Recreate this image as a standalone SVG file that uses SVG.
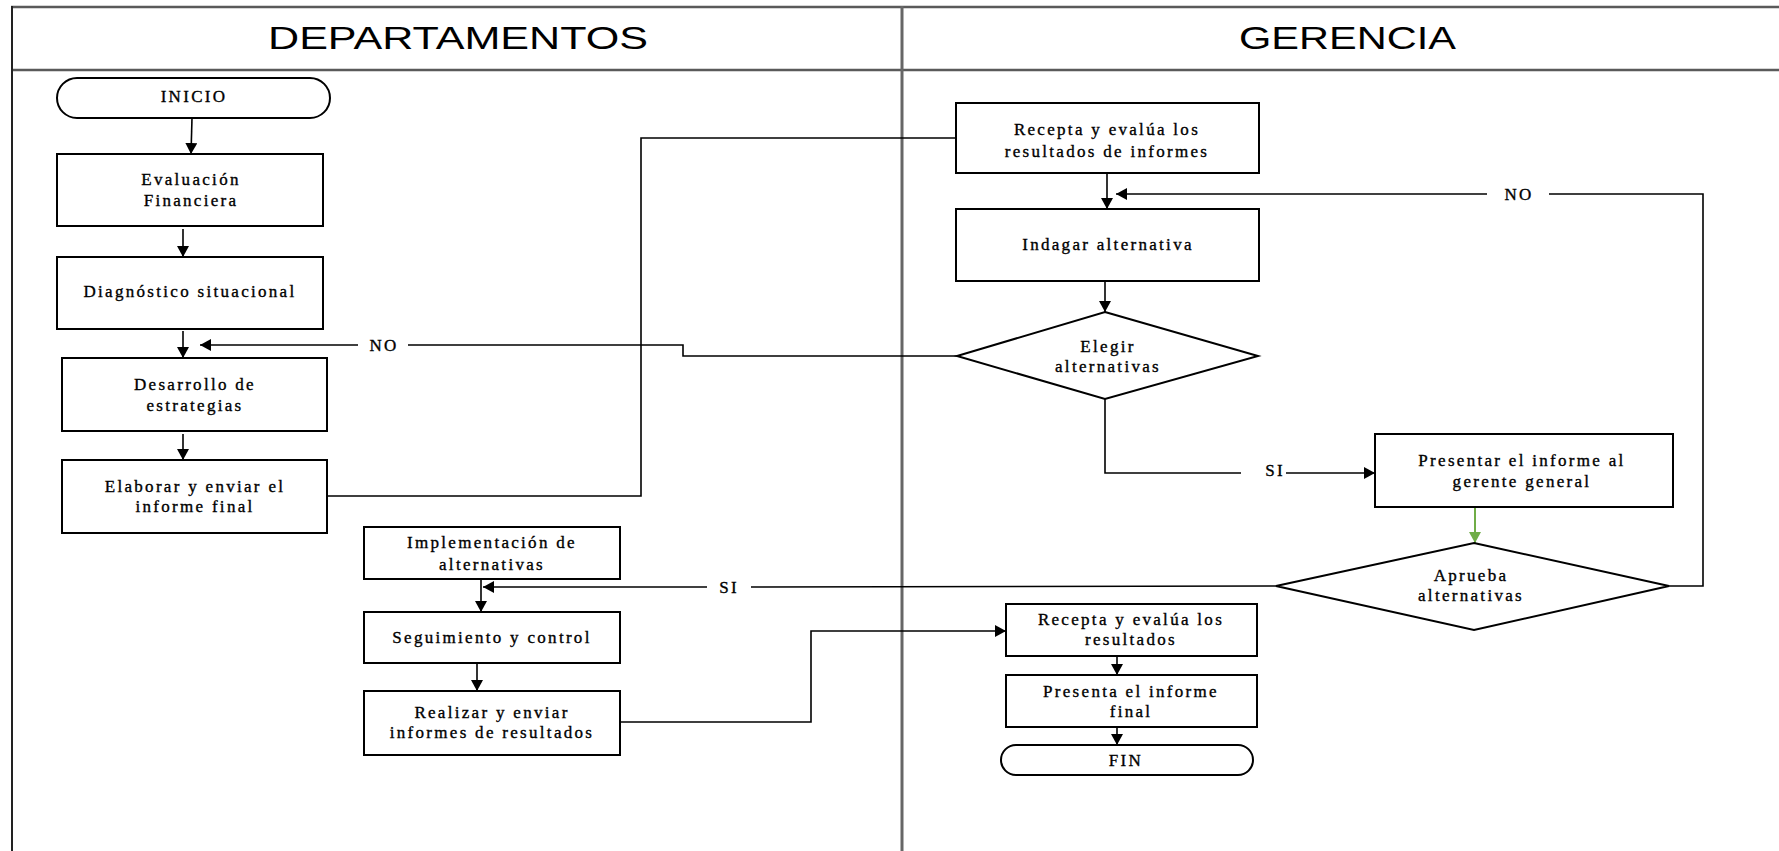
<svg xmlns="http://www.w3.org/2000/svg" width="1779" height="851" viewBox="0 0 1779 851">
  <defs>
    <style>
      .lane { stroke: #5a5a5a; stroke-width: 2.5; fill: none; }
      .lane-div { stroke: #666; stroke-width: 3; fill: none; }
      .box { fill: #fff; stroke: #000; stroke-width: 2; }
      .conn { fill: none; stroke: #000; stroke-width: 1.6; }
      .green { fill: none; stroke: #70ad47; stroke-width: 2; }
      .head { font-family: "Liberation Sans", Arial, sans-serif; font-size: 32px; fill: #000; }
      .t { font-family: "Liberation Serif", "Times New Roman", serif; font-size: 17px; letter-spacing: 2.3px; fill: #000; stroke: #000; stroke-width: 0.35; text-anchor: middle; }
    </style>
    <marker id="arr" markerUnits="userSpaceOnUse" markerWidth="11" markerHeight="12" refX="11" refY="6" orient="auto">
      <path d="M0,0 L11,6 L0,12 z" fill="#000"/>
    </marker>
    <marker id="arrG" markerUnits="userSpaceOnUse" markerWidth="11" markerHeight="12" refX="11" refY="6" orient="auto">
      <path d="M0,0 L11,6 L0,12 z" fill="#70ad47"/>
    </marker>
  </defs>

  <rect width="1779" height="851" fill="#fff"/>

  <!-- swimlane frame -->
  <g id="lanes">
    <line class="lane" x1="11" y1="7" x2="1779" y2="7"/>
    <line class="lane" x1="11" y1="70" x2="1779" y2="70"/>
    <line x1="12" y1="6" x2="12" y2="851" stroke="#222" stroke-width="2"/>
    <line class="lane-div" x1="902" y1="6" x2="902" y2="851"/>
    <text class="head" x="268" y="49" textLength="380" lengthAdjust="spacingAndGlyphs">DEPARTAMENTOS</text>
    <text class="head" x="1239" y="49" textLength="217" lengthAdjust="spacingAndGlyphs">GERENCIA</text>
  </g>

  <!-- connectors -->
  <g id="connectors">
    <line class="conn" x1="192" y1="118" x2="191" y2="154" marker-end="url(#arr)"/>
    <line class="conn" x1="183" y1="229" x2="183" y2="257" marker-end="url(#arr)"/>
    <line class="conn" x1="183" y1="331" x2="183" y2="358" marker-end="url(#arr)"/>
    <line class="conn" x1="183" y1="434" x2="183" y2="460" marker-end="url(#arr)"/>

    <!-- NO from Elegir alternativas back to Desarrollo -->
    <polyline class="conn" points="957,356 683,356 683,345 408,345"/>
    <line class="conn" x1="358" y1="345" x2="200" y2="345" marker-end="url(#arr)"/>

    <!-- Elaborar -> Recepta -->
    <polyline class="conn" points="327,496 641,496 641,138 956,138"/>

    <line class="conn" x1="1107" y1="173" x2="1107" y2="209" marker-end="url(#arr)"/>
    <line class="conn" x1="1105" y1="281" x2="1105" y2="312" marker-end="url(#arr)"/>

    <!-- NO loop from Aprueba alternativas -->
    <polyline class="conn" points="1669,586 1703,586 1703,194 1549,194"/>
    <line class="conn" x1="1487" y1="194" x2="1116" y2="194" marker-end="url(#arr)"/>

    <!-- SI from Elegir alternativas -->
    <polyline class="conn" points="1105,399 1105,473 1241,473"/>
    <line class="conn" x1="1286" y1="473" x2="1375" y2="473" marker-end="url(#arr)"/>

    <line class="green" x1="1475" y1="507" x2="1475" y2="543" marker-end="url(#arrG)"/>

    <!-- SI from Aprueba alternativas -->
    <line class="conn" x1="1276" y1="586" x2="751" y2="587"/>
    <line class="conn" x1="707" y1="587" x2="483" y2="587" marker-end="url(#arr)"/>

    <line class="conn" x1="481" y1="579" x2="481" y2="612" marker-end="url(#arr)"/>
    <line class="conn" x1="477" y1="663" x2="477" y2="691" marker-end="url(#arr)"/>

    <!-- Realizar -> Recepta resultados -->
    <polyline class="conn" points="620,722 811,722 811,631 1006,631" marker-end="url(#arr)"/>

    <line class="conn" x1="1117" y1="656" x2="1117" y2="675" marker-end="url(#arr)"/>
    <line class="conn" x1="1117" y1="727" x2="1117" y2="745" marker-end="url(#arr)"/>
  </g>

  <!-- connector labels -->
  <g id="labels">
    <text class="t" x="384" y="351">NO</text>
    <text class="t" x="1519" y="200">NO</text>
    <text class="t" x="1275" y="476">SI</text>
    <text class="t" x="729" y="593">SI</text>
  </g>

  <!-- DEPARTAMENTOS lane -->
  <g id="inicio">
    <rect class="box" x="57" y="78" width="273" height="40" rx="20" ry="20"/>
    <text class="t" x="194" y="102">INICIO</text>
  </g>
  <g id="evaluacion">
    <rect class="box" x="57" y="154" width="266" height="72"/>
    <text class="t" x="191" y="185">Evaluación</text>
    <text class="t" x="191" y="206">Financiera</text>
  </g>
  <g id="diagnostico">
    <rect class="box" x="57" y="257" width="266" height="72"/>
    <text class="t" x="190" y="297">Diagnóstico situacional</text>
  </g>
  <g id="desarrollo">
    <rect class="box" x="62" y="358" width="265" height="73"/>
    <text class="t" x="195" y="390">Desarrollo de</text>
    <text class="t" x="195" y="411">estrategias</text>
  </g>
  <g id="elaborar">
    <rect class="box" x="62" y="460" width="265" height="73"/>
    <text class="t" x="195" y="492">Elaborar y enviar el</text>
    <text class="t" x="195" y="512">informe final</text>
  </g>
  <g id="implementacion">
    <rect class="box" x="364" y="527" width="256" height="52"/>
    <text class="t" x="492" y="548">Implementación de</text>
    <text class="t" x="492" y="570">alternativas</text>
  </g>
  <g id="seguimiento">
    <rect class="box" x="364" y="612" width="256" height="51"/>
    <text class="t" x="492" y="643">Seguimiento y control</text>
  </g>
  <g id="realizar">
    <rect class="box" x="364" y="691" width="256" height="64"/>
    <text class="t" x="492" y="718">Realizar y enviar</text>
    <text class="t" x="492" y="738">informes de resultados</text>
  </g>

  <!-- GERENCIA lane -->
  <g id="recepta-informes">
    <rect class="box" x="956" y="103" width="303" height="70"/>
    <text class="t" x="1107" y="135">Recepta y evalúa los</text>
    <text class="t" x="1107" y="157">resultados de informes</text>
  </g>
  <g id="indagar">
    <rect class="box" x="956" y="209" width="303" height="72"/>
    <text class="t" x="1108" y="250">Indagar alternativa</text>
  </g>
  <g id="elegir">
    <polygon class="box" points="1105,312 1258,356 1105,399 957,356"/>
    <text class="t" x="1108" y="352">Elegir</text>
    <text class="t" x="1108" y="372">alternativas</text>
  </g>
  <g id="presentar">
    <rect class="box" x="1375" y="434" width="298" height="73"/>
    <text class="t" x="1522" y="466">Presentar el informe al</text>
    <text class="t" x="1522" y="487">gerente general</text>
  </g>
  <g id="aprueba">
    <polygon class="box" points="1474,543 1669,586 1474,630 1276,586"/>
    <text class="t" x="1471" y="581">Aprueba</text>
    <text class="t" x="1471" y="601">alternativas</text>
  </g>
  <g id="recepta-resultados">
    <rect class="box" x="1006" y="604" width="251" height="52"/>
    <text class="t" x="1131" y="625">Recepta y evalúa los</text>
    <text class="t" x="1131" y="645">resultados</text>
  </g>
  <g id="presenta-final">
    <rect class="box" x="1006" y="675" width="251" height="52"/>
    <text class="t" x="1131" y="697">Presenta el informe</text>
    <text class="t" x="1131" y="717">final</text>
  </g>
  <g id="fin">
    <rect class="box" x="1001" y="745" width="252" height="30" rx="15" ry="15"/>
    <text class="t" x="1126" y="766">FIN</text>
  </g>
</svg>
